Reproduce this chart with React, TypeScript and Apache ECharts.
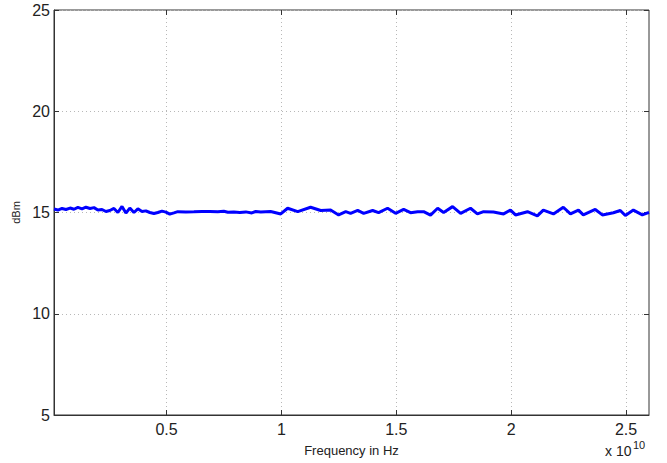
import React, { useEffect, useRef } from "react";
import * as echarts from "echarts";

// Frequency in GHz (axis shows units of 1e10 Hz)
const freqGHz = [
  0.1, 0.27, 0.45, 0.62, 0.8, 0.97, 1.14, 1.32, 1.49, 1.67, 1.84, 2.01, 2.19, 2.36, 2.53, 2.71, 2.88,
  3.06, 3.23, 3.4, 3.58, 3.75, 3.93, 4.1, 4.27, 4.45, 4.62, 4.8, 4.97, 5.14, 5.32, 5.49, 5.84, 6.19,
  6.53, 6.88, 7.23, 7.49, 7.67, 7.93, 8.19, 8.45, 8.71, 8.88, 9.1, 9.53, 9.97, 10.27, 10.71, 11.27,
  11.71, 12.14, 12.49, 12.8, 13.01, 13.32, 13.58, 13.97, 14.23, 14.62, 14.97, 15.32, 15.62, 15.93,
  16.19, 16.49, 16.8, 17.06, 17.45, 17.8, 18.23, 18.53, 18.8, 19.23, 19.67, 19.97, 20.19, 20.71,
  21.14, 21.4, 21.84, 22.27, 22.58, 22.93, 23.14, 23.66, 23.97, 24.45, 24.75, 24.97, 25.32, 25.71,
  25.97, 26.0,
];
const powerDbm = [
  15.17, 15.12, 15.2, 15.15, 15.22, 15.16, 15.25, 15.18, 15.26, 15.2, 15.24, 15.12, 15.15, 15.05,
  15.1, 15.2, 15.0, 15.3, 14.97, 15.22, 15.0, 15.18, 15.05, 15.08, 15.0, 14.95, 15.0, 15.07, 15.02,
  14.92, 14.98, 15.04, 15.03, 15.04, 15.05, 15.05, 15.04, 15.06, 15.01, 15.03, 15.0, 15.03, 14.98,
  15.05, 15.02, 15.05, 14.93, 15.21, 15.04, 15.26, 15.1, 15.12, 14.88, 15.04, 14.96, 15.1, 14.96,
  15.1, 14.99, 15.21, 14.96, 15.15, 14.99, 15.04, 15.04, 14.87, 15.21, 15.0, 15.29, 14.96, 15.21,
  14.93, 15.04, 15.02, 14.93, 15.12, 14.88, 15.04, 14.83, 15.12, 14.93, 15.26, 14.93, 15.12, 14.88,
  15.15, 14.88, 14.99, 15.1, 14.85, 15.12, 14.88, 14.99, 15.0,
];
const xTicks = [5, 10, 15, 20, 25];
const xTickLabels = ["0.5", "1", "1.5", "2", "2.5"];

const FONT = "'Liberation Sans', Arial, Helvetica, sans-serif";

export default function App() {
  const ref = useRef<HTMLDivElement>(null);
  useEffect(() => {
    if (!ref.current) return;
    const chart = echarts.init(ref.current, undefined, { renderer: "svg" });
    const gridLine = { show: true, lineStyle: { color: "#b8b8b8", type: [1, 3] as any, width: 1 } };
    const tick = { show: true, inside: true, length: 5, lineStyle: { color: "#333" } };
    chart.setOption({
      animation: false,
      backgroundColor: "#ffffff",
      grid: {
        left: 54,
        right: 18,
        top: 10,
        bottom: 48,
        show: true,
        borderColor: "#333",
        borderWidth: 1,
        backgroundColor: "#ffffff",
      },
      xAxis: [
        {
          type: "value",
          min: 0.1,
          max: 26,
          name: "Frequency in Hz",
          nameLocation: "middle",
          nameGap: 29,
          nameTextStyle: { fontFamily: FONT, fontSize: 13, color: "#222" },
          axisLine: { show: true, lineStyle: { color: "#333" } },
          axisTick: { ...tick, customValues: xTicks },
          axisLabel: {
            customValues: xTicks,
            fontFamily: FONT,
            fontSize: 16,
            color: "#222",
            margin: 6,
            formatter: (v: number) => xTickLabels[xTicks.indexOf(Math.round(v))] ?? "",
          },
          splitLine: gridLine,
        },
        {
          type: "value",
          position: "top",
          min: 0.1,
          max: 26,
          axisLine: { show: false },
          axisTick: { ...tick, customValues: xTicks },
          axisLabel: { show: false, customValues: xTicks },
          splitLine: { show: false },
        },
      ],
      yAxis: [
        {
          type: "value",
          min: 5,
          max: 25,
          interval: 5,
          name: "dBm",
          nameLocation: "middle",
          nameGap: 30,
          nameRotate: 90,
          nameTextStyle: { fontFamily: FONT, fontSize: 11, color: "#222" },
          axisLine: { show: true, lineStyle: { color: "#333" } },
          axisTick: tick,
          axisLabel: { fontFamily: FONT, fontSize: 16, color: "#222", margin: 4 },
          splitLine: gridLine,
        },
        {
          type: "value",
          position: "right",
          min: 5,
          max: 25,
          interval: 5,
          axisLine: { show: false },
          axisTick: tick,
          axisLabel: { show: false },
          splitLine: { show: false },
        },
      ],
      graphic: [
        {
          type: "text",
          left: 605,
          top: 444,
          style: { text: "x 10", fontFamily: FONT, fontSize: 14, fill: "#222" },
        },
        {
          type: "text",
          left: 633,
          top: 439,
          style: { text: "10", fontFamily: FONT, fontSize: 11, fill: "#222" },
        },
      ],
      series: [
        {
          type: "line",
          xAxisIndex: 0,
          yAxisIndex: 0,
          data: freqGHz.map((f, i) => [f, powerDbm[i]]),
          showSymbol: false,
          lineStyle: { color: "#0000ff", width: 3 },
          itemStyle: { color: "#0000ff" },
        },
      ],
    });
    return () => chart.dispose();
  }, []);
  return <div ref={ref} style={{ width: 667, height: 463, position: "absolute", left: 0, top: 0 }} />;
}
